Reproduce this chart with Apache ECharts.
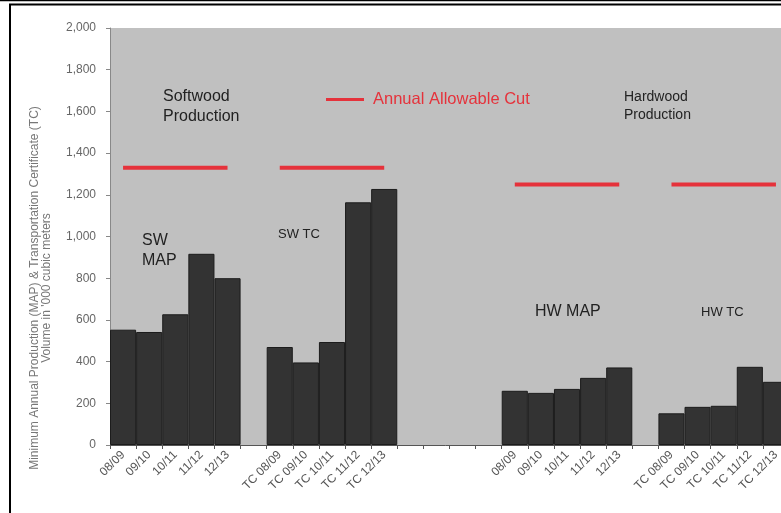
<!DOCTYPE html>
<html>
<head>
<meta charset="utf-8">
<script src="https://cdn.jsdelivr.net/npm/echarts@6/dist/echarts.min.js"></script>
<style>
  html, body { margin: 0; padding: 0; background: #ffffff; }
  #chart { width: 781px; height: 513px; }
</style>
</head>
<body>
<div id="chart"></div>
<script>
// Volumes in '000 cubic meters, fiscal years 08/09 to 12/13
const years = ['08/09', '09/10', '10/11', '11/12', '12/13'];
const tcYears = ['TC 08/09', 'TC 09/10', 'TC 10/11', 'TC 11/12', 'TC 12/13'];

const swMap = [553, 542, 627, 917, 800];
const swTc = [470, 396, 494, 1164, 1228];
const hwMap = [260, 250, 269, 322, 372];
const hwTc = [152, 183, 188, 375, 303];

// Annual allowable cut for softwood and hardwood
const swCut = 1330;
const hwCut = 1250;

// Empty category slots between the groups
const gapSwMapTc = 1;
const gapSwHw = 4;
const gapHwMapTc = 1;

const blanks = (n, v) => Array(n).fill(v);

const categories = [].concat(
  years, blanks(gapSwMapTc, ''), tcYears, blanks(gapSwHw, ''),
  years, blanks(gapHwMapTc, ''), tcYears
);
const barData = [].concat(
  swMap, blanks(gapSwMapTc, null), swTc, blanks(gapSwHw, null),
  hwMap, blanks(gapHwMapTc, null), hwTc
);
const cutData = [].concat(
  blanks(5, swCut), blanks(gapSwMapTc, null), blanks(5, swCut), blanks(gapSwHw, null),
  blanks(5, hwCut), blanks(gapHwMapTc, null), blanks(5, hwCut)
);

const FONT = '"Liberation Sans", Arial, sans-serif';
const RED = '#e5323b';

const chart = echarts.init(document.getElementById('chart'), null, { renderer: 'canvas' });

const note = (x, y, text, size, color) => ({
  type: 'text', x: x, y: y, z: 50,
  style: {
    text: text, fill: color || '#222222', font: size + 'px ' + FONT,
    align: 'left', verticalAlign: 'middle', lineHeight: Math.round(size * 1.25)
  }
});

chart.setOption({
  animation: false,
  backgroundColor: '#ffffff',
  textStyle: { fontFamily: FONT },
  // the plot runs slightly past the right edge of the page
  grid: {
    left: 110, width: 679, top: 28, bottom: 68,
    outerBoundsMode: 'none', containLabel: false,
    show: true, backgroundColor: '#c0c0c0', borderWidth: 0
  },
  legend: {
    data: ['Annual Allowable Cut'],
    left: 326, top: 91, padding: 0,
    icon: 'rect', itemWidth: 38, itemHeight: 3, itemGap: 8,
    textStyle: { color: RED, fontSize: 16.5, fontFamily: FONT, padding: [0, 0, 12, 4] }
  },
  xAxis: {
    type: 'category',
    data: categories,
    boundaryGap: true,
    axisLine: { lineStyle: { color: '#555555', width: 1 } },
    axisTick: { show: true, interval: 0, length: 4, lineStyle: { color: '#555555' } },
    axisLabel: {
      interval: 0, rotate: 45, margin: 8,
      color: '#555555', fontSize: 12, fontFamily: FONT
    }
  },
  yAxis: {
    type: 'value',
    min: 0, max: 2000, interval: 200,
    axisLine: { show: true, lineStyle: { color: '#888888' } },
    axisTick: { show: true, length: 4, lineStyle: { color: '#888888' } },
    splitLine: { show: false },
    axisLabel: {
      margin: 14, color: '#666666', fontSize: 12, fontFamily: FONT,
      formatter: v => v.toLocaleString('en-US')
    }
  },
  series: [
    {
      name: 'Volume',
      type: 'bar',
      data: barData,
      barCategoryGap: '0%',
      itemStyle: { color: '#333333', borderColor: '#1c1c1c', borderWidth: 1 }
    },
    {
      name: 'Annual Allowable Cut',
      type: 'line',
      data: cutData,
      connectNulls: false,
      showSymbol: false,
      symbol: 'none',
      itemStyle: { color: RED },
      lineStyle: { color: RED, width: 4 },
      z: 5
    }
  ],
  graphic: [
    // page frame
    { type: 'line', z: 60, shape: { x1: 0, y1: 0.5, x2: 781, y2: 0.5 }, style: { stroke: '#000', lineWidth: 1.5 } },
    { type: 'rect', z: 60, shape: { x: 10, y: 4.5, width: 800, height: 540 }, style: { fill: 'none', stroke: '#000', lineWidth: 2 } },
    // y axis title
    {
      type: 'text', x: 41, y: 288, rotation: Math.PI / 2, z: 50,
      style: {
        text: 'Minimum Annual Production (MAP) & Transportation Certificate (TC)\nVolume in \'000 cubic meters',
        fill: '#777777', font: '12px ' + FONT, align: 'center', verticalAlign: 'middle', lineHeight: 12
      }
    },
    // group annotations
    note(163, 107, 'Softwood\nProduction', 16),
    note(142, 251, 'SW\nMAP', 16),
    note(278, 234, 'SW TC', 13),
    note(624, 106, 'Hardwood\nProduction', 14),
    note(535, 312, 'HW MAP', 16),
    note(701, 312, 'HW TC', 13)
  ]
});
</script>
</body>
</html>
